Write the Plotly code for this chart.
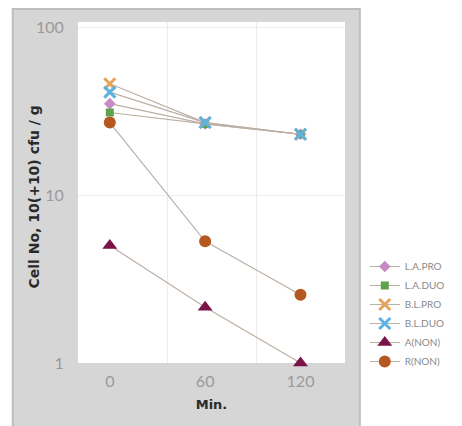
import plotly.graph_objects as go

# ---- data ----
minutes = [0, 60, 120]
tick_labels = ["0", "60", "120"]
series_names = ["L.A.PRO", "L.A.DUO", "B.L.PRO", "B.L.DUO", "A(NON)", "R(NON)"]
la_pro = [35, 26.5, 23]
la_duo = [31, 26.5, 23]
bl_pro = [46, 27, 23]
bl_duo = [41, 27, 23]
a_non = [5.0, 2.15, 1.0]
r_non = [27, 5.3, 2.55]
y_ticks = [1, 10, 100]
y_title = "Cell No, 10(+10) cfu / g"
x_title = "Min."

values = [la_pro, la_duo, bl_pro, bl_duo, a_non, r_non]
colors = ["#c58bc6", "#5ea24e", "#e6a35a", "#5ab3e3", "#7b1446", "#b5581f"]
symbols = ["diamond", "square", "x-thin-open", "x-thin-open", "triangle-up", "circle"]
sizes = [9, 8, 11, 11, 13, 12]

W, H = 462, 426
L, R, T, B = 78, 348, 22, 363

fig = go.Figure()
for name, vals, c, s, sz in zip(series_names, values, colors, symbols, sizes):
    marker = dict(color=c, size=sz, symbol=s)
    if s.startswith("x"):
        marker["line"] = dict(color=c, width=3)
    fig.add_trace(go.Scatter(
        x=minutes, y=vals, name=name, mode="lines+markers",
        line=dict(color="#bcb0a4", width=1.2),
        marker=marker, cliponaxis=False,
    ))

# invisible trace to host the category-style vertical gridlines
fig.add_trace(go.Scatter(x=[0], y=[1], xaxis="x2", showlegend=False,
                         mode="markers", marker=dict(opacity=0), hoverinfo="skip"))

# grey frame, then white plotting area on top of it
fig.add_shape(type="rect", xref="paper", yref="paper",
              x0=(12 - L) / (R - L), x1=(363 - L) / (R - L),
              y0=-0.3, y1=(B - 9) / (B - T),
              fillcolor="#d6d6d6", line=dict(color="#bdbdbd", width=2),
              layer="below")
fig.add_shape(type="rect", xref="paper", yref="paper",
              x0=0, x1=1, y0=0, y1=1,
              fillcolor="white", line=dict(width=0), layer="below")

tick_family = "Lato, 'DejaVu Sans', sans-serif"
title_font = dict(family="'DejaVu Sans', Arial", size=13, color="#2a2a2a", weight="bold")

fig.add_annotation(text=y_title, xref="paper", yref="paper",
                   x=(33 - L) / (R - L), y=(B - 197) / (B - T),
                   xanchor="center", yanchor="middle",
                   textangle=-90, showarrow=False,
                   font=dict(family="'DejaVu Sans', Arial", size=14, color="#2a2a2a",
                             weight="bold"))

fig.update_layout(
    width=W, height=H,
    margin=dict(l=L, r=W - R, t=T, b=H - B),
    paper_bgcolor="white", plot_bgcolor="rgba(0,0,0,0)",
    font=dict(family=tick_family, color="#8a8a8a", size=13),
    xaxis=dict(range=[-20, 148], tickvals=minutes, ticktext=tick_labels,
               showgrid=False, zeroline=False, showline=False,
               ticks="outside", ticklen=4, tickcolor="rgba(0,0,0,0)",
               tickfont=dict(size=16, color="#9a9a9a"),
               title=dict(text=x_title, standoff=10, font=title_font)),
    xaxis2=dict(overlaying="x", range=[0, 3], tickvals=[1, 2], showticklabels=False,
                showgrid=True, gridcolor="#ececec", gridwidth=1, zeroline=False,
                showline=False, ticks=""),
    yaxis=dict(type="log", range=[0, 2.03], tickvals=y_ticks,
               ticktext=[str(v) for v in y_ticks],
               showgrid=True, gridcolor="#ececec", zeroline=False, showline=False,
               ticks="outside", ticklen=10, tickcolor="rgba(0,0,0,0)",
               tickfont=dict(size=16, color="#9a9a9a")),
    legend=dict(x=(368 - L) / (R - L), xanchor="left",
                y=(B - 252) / (B - T), yanchor="top",
                font=dict(size=10, color="#8a8a8a", family=tick_family),
                bgcolor="rgba(0,0,0,0)", itemwidth=30, tracegroupgap=0),
    showlegend=True,
)

fig.write_html("out.html")
